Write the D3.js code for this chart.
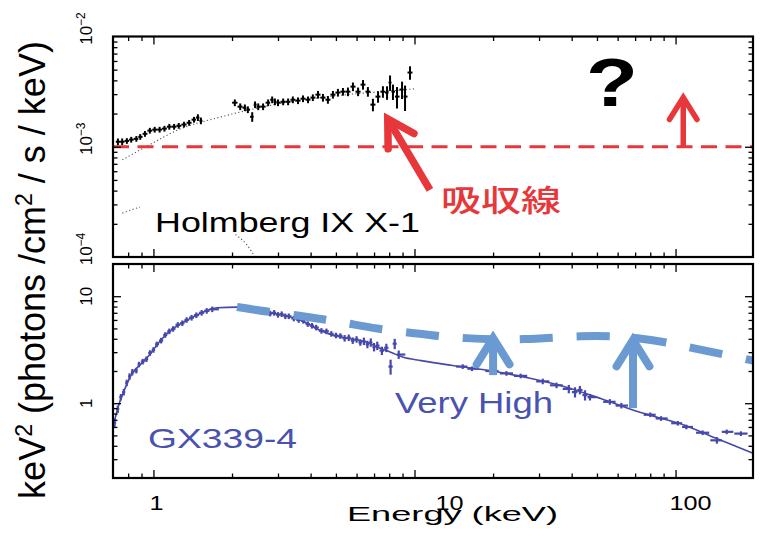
<!DOCTYPE html>
<html>
<head>
<meta charset="utf-8">
<script src="https://cdn.jsdelivr.net/npm/d3@7"></script>
<style>
  body { margin: 0; background: #fff; }
  svg { display: block; font-family: "Liberation Sans", Arial, sans-serif; }
</style>
</head>
<body>
<svg id="chart" width="763" height="536"></svg>
<script>
// ---------- Holmberg IX X-1 (upper panel) ----------
// soft-band segment: energy (keV), E^2 F (keV^2 photons/cm^2/s/keV), relative error
const holmE1 = [0.731, 0.759, 0.791, 0.822, 0.860, 0.890, 0.928, 0.969, 1.011, 1.056, 1.102, 1.150, 1.20, 1.25, 1.31, 1.37, 1.43, 1.48, 1.52];
const holmF1 = [1.11e-3, 1.11e-3, 1.13e-3, 1.16e-3, 1.18e-3, 1.23e-3, 1.31e-3, 1.40e-3, 1.43e-3, 1.43e-3, 1.46e-3, 1.52e-3, 1.52e-3, 1.55e-3, 1.59e-3, 1.65e-3, 1.76e-3, 1.84e-3, 1.72e-3];
const holmR1 = [0.07, 0.07, 0.06, 0.06, 0.06, 0.06, 0.06, 0.06, 0.06, 0.06, 0.06, 0.06, 0.06, 0.06, 0.06, 0.06, 0.06, 0.07, 0.07];

// harder segment
const holmE2 = [2.05, 2.15, 2.24, 2.30, 2.39, 2.45, 2.52, 2.63, 2.75, 2.85, 2.92, 3.00, 3.14, 3.28, 3.42, 3.58, 3.74, 3.91, 4.08, 4.27, 4.46, 4.66, 4.87, 5.09, 5.32, 5.56, 5.81, 6.08, 6.35, 6.63, 6.93, 7.25, 7.57, 7.85, 8.06, 8.27, 8.57, 8.96, 9.20, 9.61];
const holmF2 = [2.51e-3, 2.31e-3, 2.26e-3, 2.17e-3, 1.87e-3, 2.41e-3, 2.31e-3, 2.31e-3, 2.51e-3, 2.67e-3, 2.56e-3, 2.51e-3, 2.56e-3, 2.56e-3, 2.67e-3, 2.62e-3, 2.73e-3, 2.67e-3, 2.79e-3, 2.97e-3, 2.79e-3, 2.67e-3, 2.97e-3, 3.10e-3, 3.16e-3, 3.16e-3, 3.51e-3, 3.16e-3, 3.66e-3, 3.16e-3, 2.41e-3, 2.85e-3, 3.16e-3, 3.10e-3, 3.82e-3, 3.16e-3, 2.85e-3, 3.30e-3, 2.85e-3, 4.71e-3];
const holmR2 = [0.07, 0.07, 0.07, 0.07, 0.10, 0.07, 0.07, 0.07, 0.07, 0.07, 0.07, 0.07, 0.07, 0.07, 0.07, 0.07, 0.07, 0.07, 0.07, 0.08, 0.08, 0.08, 0.08, 0.08, 0.08, 0.09, 0.09, 0.09, 0.10, 0.10, 0.13, 0.12, 0.12, 0.14, 0.16, 0.16, 0.22, 0.18, 0.26, 0.14];

// model components (dotted)
const holmModelE = [0.76, 0.95, 1.25, 1.79, 2.0, 3.0, 5.0, 8.0, 10.0];
const holmModelF = [7.6e-4, 1.02e-3, 1.43e-3, 1.85e-3, 1.98e-3, 2.45e-3, 2.9e-3, 3.2e-3, 3.35e-3];
const holmDiskE = [0.76, 0.9, 1.1, 1.4, 1.8, 2.1, 2.28, 2.45];
const holmDiskF = [2.5e-4, 2.85e-4, 3.0e-4, 2.8e-4, 2.0e-4, 1.55e-4, 1.29e-4, 1.0e-4];

// flux level of the dashed reference line and the annotation arrows
const holmLevel = 1e-3;
const holmUpArrow = { e: 107, from: 1e-3, to: 2.8e-3 };
const holmLineArrow = { e0: 11.46, f0: 4.06e-4, e1: 7.9, f1: 1.79e-3 };

// ---------- GX339-4 (lower panel) ----------
const gxModelE = [0.70, 0.74, 0.78, 0.83, 0.90, 0.95, 1.05, 1.13, 1.25, 1.35, 1.51, 1.75, 2.1, 2.4, 2.7, 3.2, 3.65, 4.2, 4.9, 5.7, 6.6, 7.3, 8.1, 9.0, 10.6, 14, 19.8, 28, 39, 52, 69, 85, 107, 143, 198];
const gxModelF = [0.60, 1.0, 1.39, 1.91, 2.35, 2.7, 3.7, 4.5, 5.4, 6.0, 6.9, 7.8, 7.9, 7.6, 7.1, 6.6, 6.0, 5.0, 4.3, 4.0, 3.7, 3.3, 3.0, 2.7, 2.5, 2.25, 2.0, 1.7, 1.39, 1.1, 0.86, 0.74, 0.63, 0.47, 0.34];

const gxE = [0.71, 0.73, 0.75, 0.77, 0.79, 0.81, 0.83, 0.86, 0.88, 0.91, 0.94, 0.97, 1.00, 1.03, 1.07, 1.11, 1.15, 1.19, 1.24, 1.29, 1.34, 1.40, 1.46, 1.53, 1.60, 1.68,
  2.6, 2.7, 2.8, 2.9, 3.0, 3.1, 3.2, 3.3, 3.45, 3.6, 3.75, 3.9, 4.05, 4.2, 4.4, 4.6, 4.8, 5.0, 5.2, 5.4, 5.6, 5.8, 6.0, 6.2, 6.4, 6.6, 6.8, 7.0, 7.2, 7.5, 7.8, 8.1, 8.4, 8.7,
  15.3, 16.6, 19.8, 22.5, 25.5, 31, 35, 39, 41.2, 43, 45, 47, 56, 62, 80, 88, 102, 110, 127, 144, 157, 178];
const gxF = [0.66, 0.88, 1.14, 1.27, 1.55, 1.78, 1.95, 2.02, 2.3, 2.45, 2.58, 2.95, 3.15, 3.55, 3.85, 4.35, 4.7, 4.95, 5.4, 5.6, 6.0, 6.3, 6.65, 7.0, 7.3, 7.55,
  7.3, 7.2, 6.9, 7.0, 6.7, 6.8, 6.5, 6.5, 6.2, 6.0, 5.9, 5.5, 5.3, 5.1, 4.75, 4.7, 4.45, 4.3, 4.25, 4.05, 4.1, 3.85, 3.95, 3.7, 3.8, 3.55, 3.7, 3.35, 3.45, 3.1, 3.3, 2.2, 3.6, 2.85,
  2.2, 2.1, 2.0, 1.9, 1.8, 1.6, 1.47, 1.36, 1.27, 1.33, 1.19, 1.14, 1.03, 0.95, 0.78, 0.72, 0.65, 0.6, 0.53, 0.45, 0.54, 0.52];
const gxR = [0.09, 0.08, 0.07, 0.07, 0.07, 0.07, 0.07, 0.06, 0.06, 0.06, 0.06, 0.06, 0.06, 0.06, 0.06, 0.06, 0.06, 0.06, 0.06, 0.06, 0.06, 0.06, 0.06, 0.06, 0.06, 0.06,
  0.06, 0.06, 0.06, 0.06, 0.06, 0.06, 0.06, 0.06, 0.06, 0.06, 0.06, 0.06, 0.06, 0.06, 0.06, 0.06, 0.06, 0.06, 0.06, 0.07, 0.07, 0.07, 0.07, 0.07, 0.08, 0.08, 0.09, 0.09, 0.09, 0.09, 0.09, 0.16, 0.11, 0.09,
  0.05, 0.05, 0.05, 0.05, 0.05, 0.06, 0.06, 0.09, 0.11, 0.09, 0.11, 0.07, 0.06, 0.06, 0.05, 0.05, 0.05, 0.05, 0.05, 0.07, 0.05, 0.05];

// expected "very high" state spectrum (dashed) and arrows toward it
const vhE = [2.09, 2.78, 3.65, 4.6, 5.5, 7.2, 9.44, 12.5, 15.6, 20.7, 26, 33.9, 43, 57.1, 71.1, 92.7, 116.6, 157, 198];
const vhF = [7.94, 7.1, 6.6, 6.0, 5.6, 4.95, 4.6, 4.2, 4.05, 3.95, 3.95, 4.1, 4.25, 4.25, 4.07, 3.72, 3.26, 2.82, 2.5];
const vhArrows = [ { e: 20.0, from: 1.83, to: 4.07 }, { e: 68.7, from: 0.9, to: 3.9 } ];

// axis tick labels
const xTickLabels = [1, 10, 100];
const topTickExps = [-2, -3, -4];
const bottomTickLabels = [10, 1];

// ---------- scales ----------
const x = d3.scaleLog().domain([0.7, 198]).range([113, 753]);
const yTop = d3.scaleLog().domain([1e-4, 1e-2]).range([257, 36.5]);
const yBot = d3.scaleLog().domain([0.2, 20]).range([478, 264]);

const RED = "#e8373a", INDIGO = "#4649aa", LIGHT = "#6a9ad1";
const svg = d3.select("#chart");

// soft edge for the dense blue spectrum
svg.append("defs").append("filter").attr("id", "soft")
  .append("feGaussianBlur").attr("stdDeviation", 0.45);

const isDecade = v => Math.abs(Math.log10(v) - Math.round(Math.log10(v))) < 1e-6;

// inward ticks on all four sides plus the frame
function drawFrame(yScale) {
  const [xa, xb] = x.range();
  const [ya, yb] = yScale.range(); // bottom, top
  const g = svg.append("g").attr("stroke", "#000");
  const xt = x.ticks().filter(v => x(v) > xa + 1 && x(v) < xb - 1);
  const yt = yScale.ticks().filter(v => yScale(v) < ya - 1 && yScale(v) > yb + 1);
  [[d3.axisBottom, `translate(0,${ya})`], [d3.axisTop, `translate(0,${yb})`]].forEach(([ax, tr]) => {
    [[xt.filter(v => !isDecade(v)), 4.5], [xt.filter(isDecade), 8]].forEach(([vv, len]) => {
      g.append("g").attr("transform", tr)
        .call(ax(x).tickValues(vv).tickSize(-len).tickFormat(""))
        .call(s => s.select(".domain").remove())
        .selectAll("line").attr("stroke-width", 1.3);
    });
  });
  [[d3.axisLeft, `translate(${xa},0)`], [d3.axisRight, `translate(${xb},0)`]].forEach(([ax, tr]) => {
    [[yt.filter(v => !isDecade(v)), 4.5], [yt.filter(isDecade), 8]].forEach(([vv, len]) => {
      g.append("g").attr("transform", tr)
        .call(ax(yScale).tickValues(vv).tickSize(-len).tickFormat(""))
        .call(s => s.select(".domain").remove())
        .selectAll("line").attr("stroke-width", 1.3);
    });
  });
  g.append("rect").attr("x", xa).attr("y", yb).attr("width", xb - xa).attr("height", ya - yb)
    .attr("fill", "none").attr("stroke-width", 2.2);
}

// crosses: horizontal bar spans to the neighbouring bin edges, vertical bar is the error
function drawCrosses(g, es, fs, rs, yScale, color, w) {
  es.forEach((e, i) => {
    const lo = i > 0 ? Math.sqrt(es[i - 1] * e) : e * e / Math.sqrt(e * es[i + 1]);
    const hi = i < es.length - 1 ? Math.sqrt(es[i + 1] * e) : e * e / Math.sqrt(e * es[i - 1]);
    const l = Math.max(lo, e / 1.06), h = Math.min(hi, e * 1.06);
    g.append("line").attr("x1", x(l)).attr("x2", x(h)).attr("y1", yScale(fs[i])).attr("y2", yScale(fs[i]))
      .attr("stroke", color).attr("stroke-width", w);
    g.append("line").attr("x1", x(e)).attr("x2", x(e))
      .attr("y1", yScale(fs[i] * (1 - rs[i]))).attr("y2", yScale(fs[i] * (1 + rs[i])))
      .attr("stroke", color).attr("stroke-width", w);
  });
}

// arrow from (x0,y0) to tip (x1,y1) in pixels
function drawArrow(g, x0, y0, x1, y1, color, w, wing, angDeg) {
  const a = Math.atan2(y0 - y1, x0 - x1), d = angDeg * Math.PI / 180;
  g.append("line").attr("x1", x0).attr("y1", y0).attr("x2", x1).attr("y2", y1)
    .attr("stroke", color).attr("stroke-width", w);
  const p = [[x1 + wing * Math.cos(a - d), y1 + wing * Math.sin(a - d)], [x1, y1], [x1 + wing * Math.cos(a + d), y1 + wing * Math.sin(a + d)]];
  g.append("path").attr("d", d3.line()(p)).attr("fill", "none").attr("stroke", color)
    .attr("stroke-width", w).attr("stroke-linecap", "round").attr("stroke-linejoin", "miter");
}

// ---------- upper panel ----------
const gTop = svg.append("g");
const lineTop = d3.line().x(d => x(d[0])).y(d => yTop(d[1])).curve(d3.curveMonotoneX);
gTop.append("path").attr("d", lineTop(d3.zip(holmModelE, holmModelF)))
  .attr("fill", "none").attr("stroke", "#555").attr("stroke-width", 1.1).attr("stroke-dasharray", "1.2,2.4");
gTop.append("path").attr("d", lineTop(d3.zip(holmDiskE, holmDiskF)))
  .attr("fill", "none").attr("stroke", "#555").attr("stroke-width", 1.1).attr("stroke-dasharray", "1.2,2.4");

// source name on a white plate
const holmLabel = gTop.append("text").attr("x", 155).attr("y", 232).attr("font-size", 28).attr("fill", "#000")
  .attr("textLength", 265).attr("lengthAdjust", "spacingAndGlyphs").text("Holmberg IX X-1");
const hb = holmLabel.node().getBBox();
gTop.insert("rect", "text").attr("x", hb.x - 15).attr("y", hb.y - 6).attr("width", hb.width + 22).attr("height", hb.height + 2).attr("fill", "#fff");

drawCrosses(gTop, holmE1, holmF1, holmR1, yTop, "#000", 2);
drawCrosses(gTop, holmE2, holmF2, holmR2, yTop, "#000", 2);

gTop.append("line").attr("x1", x.range()[0]).attr("x2", x.range()[1])
  .attr("y1", yTop(holmLevel)).attr("y2", yTop(holmLevel))
  .attr("stroke", RED).attr("stroke-width", 2.8).attr("stroke-dasharray", "16,8.5");

drawArrow(gTop, x(holmUpArrow.e), yTop(holmUpArrow.from), x(holmUpArrow.e), yTop(holmUpArrow.to), RED, 5.5, 26, 32);
drawArrow(gTop, x(holmLineArrow.e0), yTop(holmLineArrow.f0), x(holmLineArrow.e1), yTop(holmLineArrow.f1), RED, 7.5, 30, 30);

gTop.append("text").attr("x", 441).attr("y", 211).attr("font-size", 30).attr("font-weight", 500)
  .attr("font-family", "'Noto Sans CJK JP', sans-serif").attr("fill", RED)
  .attr("textLength", 120).attr("lengthAdjust", "spacingAndGlyphs").text("吸収線");

gTop.append("text").attr("transform", "translate(612,106) scale(1.25,1)").attr("text-anchor", "middle")
  .attr("font-size", 68).attr("font-weight", "bold").attr("fill", "#000").text("?");

drawFrame(yTop);

// ---------- lower panel ----------
const gBot = svg.append("g");
const lineBot = d3.line().x(d => x(d[0])).y(d => yBot(d[1])).curve(d3.curveMonotoneX);

const gData = gBot.append("g").attr("filter", "url(#soft)");
drawCrosses(gData, gxE, gxF, gxR, yBot, INDIGO, 2.2);
gBot.append("path").attr("d", lineBot(d3.zip(gxModelE, gxModelF)))
  .attr("fill", "none").attr("stroke", INDIGO).attr("stroke-width", 1.6);

gBot.append("path").attr("d", d3.line().x(d => x(d[0])).y(d => yBot(d[1])).curve(d3.curveBasis)(d3.zip(vhE, vhF)))
  .attr("fill", "none").attr("stroke", LIGHT).attr("stroke-width", 8).attr("stroke-dasharray", "33,24");

vhArrows.forEach(a => drawArrow(gBot, x(a.e), yBot(a.from), x(a.e), yBot(a.to), LIGHT, 8, 31, 32));

gBot.append("text").attr("x", 395).attr("y", 413).attr("font-size", 29).attr("fill", "#4a52b0")
  .attr("textLength", 158).attr("lengthAdjust", "spacingAndGlyphs").text("Very High");
gBot.append("text").attr("x", 148).attr("y", 448).attr("font-size", 28).attr("fill", "#4a52b0")
  .attr("textLength", 149).attr("lengthAdjust", "spacingAndGlyphs").text("GX339-4");

drawFrame(yBot);

// ---------- axis labels ----------
const xShift = { 1: 3, 10: 35, 100: 15 };
xTickLabels.forEach(v => {
  const t = svg.append("text").attr("x", 0).attr("y", 510).attr("font-size", 21).text(v);
  const w = t.node().getComputedTextLength();
  t.attr("x", x(v) + xShift[v] - w * 0.6)
    .attr("textLength", w * 1.2).attr("lengthAdjust", "spacingAndGlyphs");
});
svg.append("text").attr("x", 347).attr("y", 521).attr("font-size", 21)
  .attr("textLength", 211).attr("lengthAdjust", "spacingAndGlyphs").text("Energy (keV)");

// rotated decade labels
topTickExps.forEach(p => {
  const t = svg.append("text").attr("transform", `translate(92,${yTop(Math.pow(10, p)) - 8}) rotate(-90)`)
    .attr("text-anchor", "middle").attr("font-size", 17).text("10");
  t.append("tspan").attr("dy", -7).attr("font-size", 12).text("\u2212" + Math.abs(p));
});
bottomTickLabels.forEach(v => {
  svg.append("text").attr("transform", `translate(92,${yBot(v)}) rotate(-90)`)
    .attr("text-anchor", "middle").attr("font-size", 17).text(v);
});

const yl = svg.append("text").attr("transform", "translate(45,270) rotate(-90)")
  .attr("text-anchor", "middle").attr("font-size", 36);
yl.append("tspan").text("keV");
yl.append("tspan").attr("dy", -13).attr("font-size", 23).text("2");
yl.append("tspan").attr("dy", 13).text(" (photons /cm");
yl.append("tspan").attr("dy", -13).attr("font-size", 23).text("2");
yl.append("tspan").attr("dy", 13).text(" / s / keV)");
</script>
</body>
</html>
